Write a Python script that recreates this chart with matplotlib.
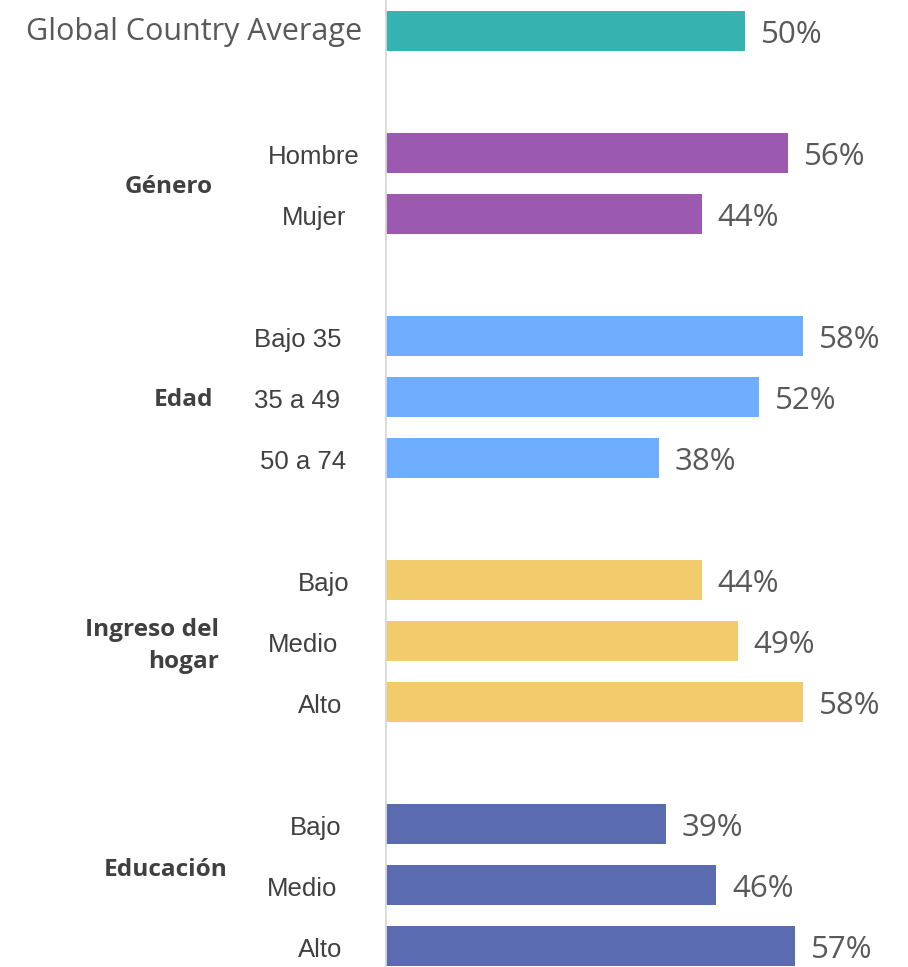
import matplotlib.pyplot as plt
from matplotlib.transforms import blended_transform_factory

# Data
categories = ['Hombre', 'Mujer', 'Bajo 35', '35 a 49', '50 a 74',
              'Bajo', 'Medio', 'Alto', 'Bajo', 'Medio', 'Alto']
values = [56, 44, 58, 52, 38, 44, 49, 58, 39, 46, 57]
groups = ['Género', 'Edad', 'Ingreso del\nhogar', 'Educación']
group_sizes = [2, 3, 3, 3]
group_colors = ['#9B59B0', '#6EADFF', '#F2CB6C', '#5A6BB0']
global_label = 'Global Country Average'
global_value = 50

# Layout (pixels in the 908x967 figure)
W, H = 908, 967
label_right = [360, 346, 342, 340, 346, 350, 338, 342, 342, 337, 342]
group_right = [213, 213, 219, 227]
group_y = [187, 400, 646, 870]

fig = plt.figure(figsize=(W / 100, H / 100), dpi=100)
ax = fig.add_axes([385 / W, 0, 1 - 385 / W, 1])
ax.set_xlim(0, (W - 385) / 7.2)
ax.set_ylim((H - 31) / 61, -31 / 61)
ax.axis('off')
trans = blended_transform_factory(fig.transFigure, ax.transData)

pct_font = dict(family='Open Sans', fontsize=22.5, color='#595959', va='center')
cat_font = dict(family='Liberation Sans', fontsize=18.5, color='#404040', va='center', ha='right')
grp_font = dict(family='Open Sans', fontweight='bold', fontsize=17.6, color='#404040',
                va='center', ha='right', linespacing=1.5)

# Global average bar
ax.barh(0, global_value, height=40 / 61, color='#36B3B0')
ax.text(global_value + 16 / 7.2, 0.07, f'{global_value}%', **pct_font)
ax.text(362 / W, 0.02, global_label, transform=trans, family='Open Sans', fontsize=22,
        color='#595959', va='center', ha='right')

# Grouped bars
slot = 1
k = 0
for g, n, col, gx, gy in zip(groups, group_sizes, group_colors, group_right, group_y):
    slot += 1
    for j in range(n):
        ax.barh(slot, values[k], height=40 / 61, color=col)
        ax.text(values[k] + 16 / 7.2, slot + 0.07, f'{values[k]}%', **pct_font)
        ax.text(label_right[k] / W, slot + 0.06, categories[k], transform=trans, **cat_font)
        slot += 1
        k += 1
    fig.text(gx / W, 1 - gy / H, g, **grp_font)

# Vertical axis line
ax.axvline(0, color='#D9D9D9', lw=2)

fig.savefig('out.png', dpi=100)
